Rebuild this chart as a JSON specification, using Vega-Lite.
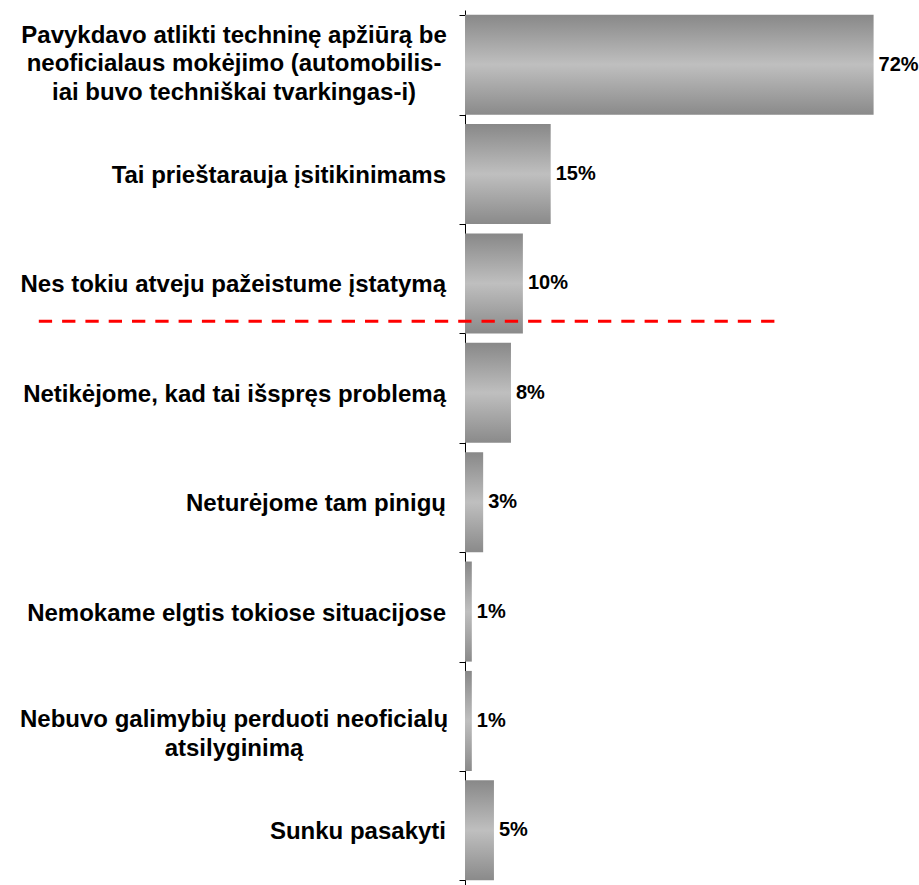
{
  "$schema": "https://vega.github.io/schema/vega-lite/v6.json",
  "autosize": {"type": "none"},
  "padding": {"left": 465, "top": 10, "right": 0, "bottom": 0},
  "width": 454,
  "height": 875,
  "background": "white",
  "config": {"view": {"stroke": null}, "font": "Liberation Sans"},
  "datasets": {
    "bars": [
      {"category": "A", "value": 0.72},
      {"category": "B", "value": 0.151},
      {"category": "C", "value": 0.102},
      {"category": "D", "value": 0.081},
      {"category": "E", "value": 0.032},
      {"category": "F", "value": 0.012},
      {"category": "G", "value": 0.012},
      {"category": "H", "value": 0.051}
    ],
    "lines": [
      {"category": "A", "slot": 1, "kind": "multi", "text": "Pavykdavo atlikti techninę apžiūrą be"},
      {"category": "A", "slot": 2, "kind": "multi", "text": "neoficialaus mokėjimo (automobilis-"},
      {"category": "A", "slot": 3, "kind": "multi", "text": "iai buvo techniškai tvarkingas-i)"},
      {"category": "B", "slot": 2, "kind": "single", "text": "Tai prieštarauja įsitikinimams"},
      {"category": "C", "slot": 2, "kind": "single", "text": "Nes tokiu atveju pažeistume įstatymą"},
      {"category": "D", "slot": 2, "kind": "single", "text": "Netikėjome, kad tai išspręs problemą"},
      {"category": "E", "slot": 2, "kind": "single", "text": "Neturėjome tam pinigų"},
      {"category": "F", "slot": 2, "kind": "single", "text": "Nemokame elgtis tokiose situacijose"},
      {"category": "G", "slot": 2, "kind": "multi", "text": "Nebuvo galimybių perduoti neoficialų"},
      {"category": "G", "slot": 3, "kind": "multi", "text": "atsilyginimą"},
      {"category": "H", "slot": 2, "kind": "single", "text": "Sunku pasakyti"}
    ],
    "cuts": [
      {"category": "C"}
    ]
  },
  "layer": [
    {
      "data": {"name": "bars"},
      "mark": {
        "type": "bar",
        "color": {
          "gradient": "linear",
          "x1": 0, "y1": 0, "x2": 0, "y2": 1,
          "stops": [
            {"offset": 0, "color": "#888888"},
            {"offset": 0.5, "color": "#bfbfbf"},
            {"offset": 1, "color": "#8a8a8a"}
          ]
        }
      },
      "encoding": {
        "y": {
          "field": "category",
          "type": "nominal",
          "sort": null,
          "scale": {"domain": ["A", "B", "C", "D", "E", "F", "G", "H"], "paddingInner": 0.085, "paddingOuter": 0.0425},
          "axis": {
            "title": null,
            "labels": false,
            "domainColor": "black",
            "domainWidth": 1,
            "tickColor": "black",
            "tickSize": 6,
            "tickBand": "extent"
          }
        },
        "x": {"field": "value", "type": "quantitative", "scale": {"domain": [0, 0.8]}, "axis": null}
      }
    },
    {
      "data": {"name": "bars"},
      "mark": {"type": "text", "align": "left", "baseline": "middle", "dx": 5, "font": "Liberation Sans", "fontWeight": "bold", "fontSize": 20, "color": "black"},
      "encoding": {
        "y": {"field": "category", "type": "nominal", "sort": null},
        "x": {"field": "value", "type": "quantitative"},
        "text": {"field": "value", "type": "quantitative", "format": ".0%"}
      }
    },
    {
      "data": {"name": "lines"},
      "transform": [{"filter": "datum.kind === 'single'"}],
      "mark": {"type": "text", "align": "right", "baseline": "middle", "dy": 2, "font": "Liberation Sans", "fontWeight": "bold", "fontSize": 24, "color": "black"},
      "encoding": {
        "y": {"field": "category", "type": "nominal", "sort": null, "bandPosition": 0.5},
        "x": {"datum": -0.0335, "type": "quantitative"},
        "text": {"field": "text", "type": "nominal"}
      }
    },
    {
      "data": {"name": "lines"},
      "transform": [{"filter": "datum.kind === 'multi' && datum.slot === 1"}],
      "mark": {"type": "text", "align": "center", "baseline": "middle", "font": "Liberation Sans", "fontWeight": "bold", "fontSize": 24, "color": "black"},
      "encoding": {
        "y": {"field": "category", "type": "nominal", "sort": null, "bandPosition": 0.21},
        "x": {"datum": -0.407, "type": "quantitative"},
        "text": {"field": "text", "type": "nominal"}
      }
    },
    {
      "data": {"name": "lines"},
      "transform": [{"filter": "datum.kind === 'multi' && datum.slot === 2"}],
      "mark": {"type": "text", "align": "center", "baseline": "middle", "font": "Liberation Sans", "fontWeight": "bold", "fontSize": 24, "color": "black"},
      "encoding": {
        "y": {"field": "category", "type": "nominal", "sort": null, "bandPosition": 0.49},
        "x": {"datum": -0.407, "type": "quantitative"},
        "text": {"field": "text", "type": "nominal"}
      }
    },
    {
      "data": {"name": "lines"},
      "transform": [{"filter": "datum.kind === 'multi' && datum.slot === 3"}],
      "mark": {"type": "text", "align": "center", "baseline": "middle", "font": "Liberation Sans", "fontWeight": "bold", "fontSize": 24, "color": "black"},
      "encoding": {
        "y": {"field": "category", "type": "nominal", "sort": null, "bandPosition": 0.78},
        "x": {"datum": -0.407, "type": "quantitative"},
        "text": {"field": "text", "type": "nominal"}
      }
    },
    {
      "data": {"name": "cuts"},
      "mark": {"type": "rule", "color": "#ff0000", "strokeWidth": 3, "strokeDash": [13.3, 10]},
      "encoding": {
        "y": {"field": "category", "type": "nominal", "sort": null, "bandPosition": 0.878},
        "x": {"datum": -0.751, "type": "quantitative"},
        "x2": {"datum": 0.5463}
      }
    }
  ]
}
